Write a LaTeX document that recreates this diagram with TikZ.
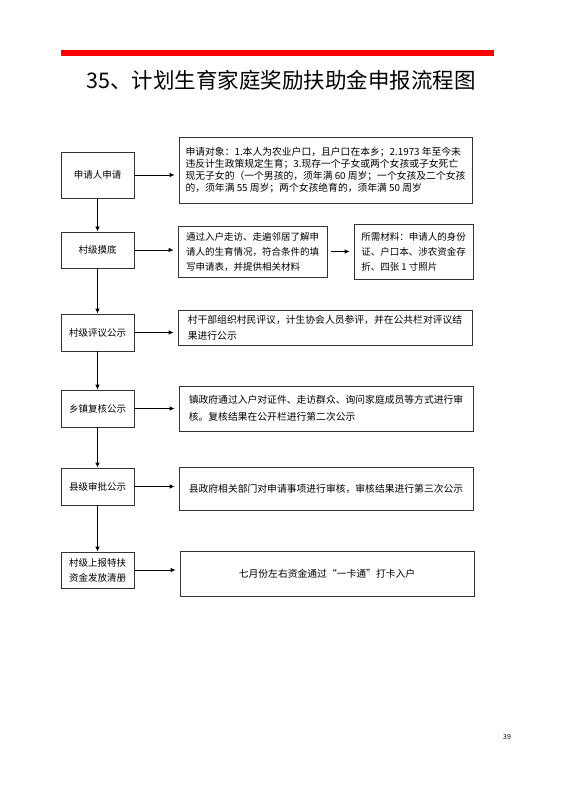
\documentclass[tikz,border=0pt]{standalone}
\usepackage{fontspec}
\setmainfont{Noto Sans CJK SC}
\usetikzlibrary{arrows.meta}
\begin{document}
\begin{tikzpicture}[x=1pt, y=-1pt,
    stage/.style={draw=black!80, line width=0.8pt, align=center, minimum width=73pt, inner sep=0pt, font=\fontsize{9.5}{15}\selectfont},
    note/.style={draw=black!80, line width=0.8pt, align=left, inner sep=0pt, font=\fontsize{9.8}{12}\selectfont},
    flow/.style={-{Latex[length=5pt,width=4.5pt]}, line width=0.8pt}]
    \useasboundingbox (0,0) rectangle (561,794);
    \fill[red] (61,50) rectangle (494,56);
    \node[font=\fontsize{21.5}{24}\selectfont] (title) at (281,80) {35、计划生育家庭奖励扶助金申报流程图};
    \node[stage, minimum height=46pt] (apply) at (97.5,175) {申请人申请};
    \node[stage, minimum height=36pt] (survey) at (97.5,250) {村级摸底};
    \node[stage, minimum height=37pt] (village) at (97.5,332.5) {村级评议公示};
    \node[stage, minimum height=37pt] (town) at (97.5,408.5) {乡镇复核公示};
    \node[stage, minimum height=37pt] (county) at (97.5,486.5) {县级审批公示};
    \node[stage, minimum height=36pt] (payout) at (97.5,570) {村级上报特扶\\资金发放清册};
    \node[note, minimum width=293pt, minimum height=66pt] (who) at (325.5,170) {申请对象：1.本人为农业户口，且户口在本乡；2.1973 年至今未\\违反计生政策规定生育；3.现存一个子女或两个女孩或子女死亡\\现无子女的（一个男孩的，须年满 60 周岁；一个女孩及二个女孩\\的，须年满 55 周岁；两个女孩绝育的，须年满 50 周岁};
    \node[note, minimum width=149pt, minimum height=51pt, font=\fontsize{9.5}{15}\selectfont] (visit) at (252.5,251.5) {通过入户走访、走遍邻居了解申\\请人的生育情况，符合条件的填\\写申请表，并提供相关材料};
    \node[note, minimum width=119pt, minimum height=55pt, font=\fontsize{9.5}{15}\selectfont] (docs) at (413.5,251.5) {所需材料：申请人的身份\\证、户口本、涉农资金存\\折、四张 1 寸照片};
    \node[note, minimum width=294pt, minimum height=35pt, font=\fontsize{9.8}{16}\selectfont] (review) at (325,327.5) {村干部组织村民评议，计生协会人员参评，并在公共栏对评议结\\果进行公示};
    \node[note, minimum width=294pt, minimum height=45pt, font=\fontsize{9.8}{17}\selectfont] (recheck) at (326,408.5) {镇政府通过入户对证件、走访群众、询问家庭成员等方式进行审\\核。复核结果在公开栏进行第二次公示};
    \node[note, minimum width=294pt, minimum height=43pt] (approve) at (326,488.5) {县政府相关部门对申请事项进行审核，审核结果进行第三次公示};
    \node[note, minimum width=294pt, minimum height=45pt] (card) at (327,573.5) {七月份左右资金通过“一卡通”打卡入户};
    \node[font=\fontsize{7}{8}\selectfont] (page) at (507,737) {39};
    \draw[flow, shorten >=4pt] (apply.east) -- (apply.east -| who.west);
    \draw[flow, shorten >=4pt] (survey.east) -- (survey.east -| visit.west);
    \draw[flow, shorten >=4pt, shorten <=4pt] (visit.east) -- (docs.west);
    \draw[flow, shorten >=4pt] (village.east) -- (village.east -| review.west);
    \draw[flow, shorten >=4pt] (town.east) -- (town.east -| recheck.west);
    \draw[flow, shorten >=4pt] (county.east) -- (county.east -| approve.west);
    \draw[flow, shorten >=4pt] (payout.east) -- (payout.east -| card.west);
    \draw[flow] (apply) -- (survey);
    \draw[flow] (survey) -- (village);
    \draw[flow] (village) -- (town);
    \draw[flow] (town) -- (county);
    \draw[flow] (county) -- (payout);
\end{tikzpicture}
\end{document}
